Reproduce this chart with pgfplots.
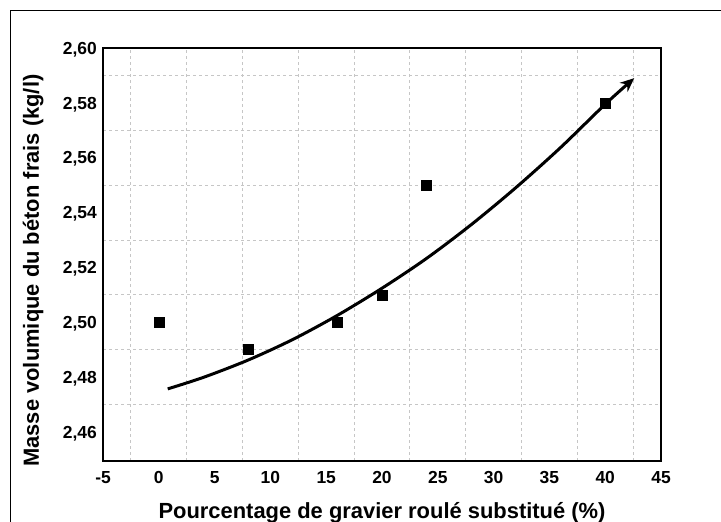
\documentclass[border=0pt]{standalone}
\usepackage{fontspec}
\setmainfont{Liberation Sans}
\usepackage{pgfplots}
\pgfplotsset{compat=1.18}
\usetikzlibrary{arrows.meta}

% measured points
\pgfplotstableread{
x y
0 2.50
8 2.49
16 2.50
20 2.51
24 2.55
40 2.58
}\mesures

% trend curve
\pgfplotstableread{
x y
0.8 2.4757
4 2.4799
8 2.4862
12 2.4937
16 2.5025
20 2.5124
24 2.5233
28 2.5356
32 2.5491
36 2.5637
40 2.5795
42.6 2.5890
}\tendance

\begin{document}
\begin{tikzpicture}
\useasboundingbox (0bp,0bp) rectangle (721bp,522bp);
\draw[line width=1bp] (10.5bp,-5bp) rectangle (730bp,511.5bp);
\begin{axis}[
  at={(103bp,61bp)}, anchor=south west,
  width=558bp, height=413bp, scale only axis,
  xmin=-5, xmax=45, ymin=2.4494, ymax=2.60,
  xtick={-5,0,5,10,15,20,25,30,35,40,45},
  xticklabels={-5,0,5,10,15,20,25,30,35,40,45},
  ytick={2.46,2.48,2.50,2.52,2.54,2.56,2.58,2.60},
  yticklabels={{2,46},{2,48},{2,50},{2,52},{2,54},{2,56},{2,58},{2,60}},
  minor xtick={-2.5,2.5,7.5,12.5,17.5,22.5,27.5,32.5,37.5,42.5},
  minor ytick={2.47,2.49,2.51,2.53,2.55,2.57,2.59},
  xminorgrids, yminorgrids,
  minor grid style={gray!45, line width=0.9bp, dash pattern=on 3bp off 3bp},
  major tick length=0pt, minor tick length=0pt,
  axis line style={line width=1.8bp},
  tick label style={font=\fontsize{17.5}{20}\selectfont\bfseries, inner sep=0pt},
  x tick label style={anchor=base, yshift=-22.5bp},
  y tick label style={anchor=base east, xshift=-6bp, yshift=-6.2bp},
  label style={font=\fontsize{22}{26}\selectfont\bfseries},
  xlabel={Pourcentage de gravier roulé substitué (\%)},
  ylabel={Masse volumique du béton frais (kg/l)},
  xlabel style={at={(axis description cs:0.5,-0.1247)}, anchor=center},
  ylabel style={at={(axis description cs:-0.125,0.461)}, anchor=center, rotate=0},
  clip=false,
]
\addplot[only marks, mark=square*, mark size=5bp, black] table {\mesures};
\addplot[black, line width=3bp, smooth, no marks,
  -{Stealth[length=14bp,width=12bp]}] table {\tendance};
\end{axis}
\end{tikzpicture}
\end{document}
